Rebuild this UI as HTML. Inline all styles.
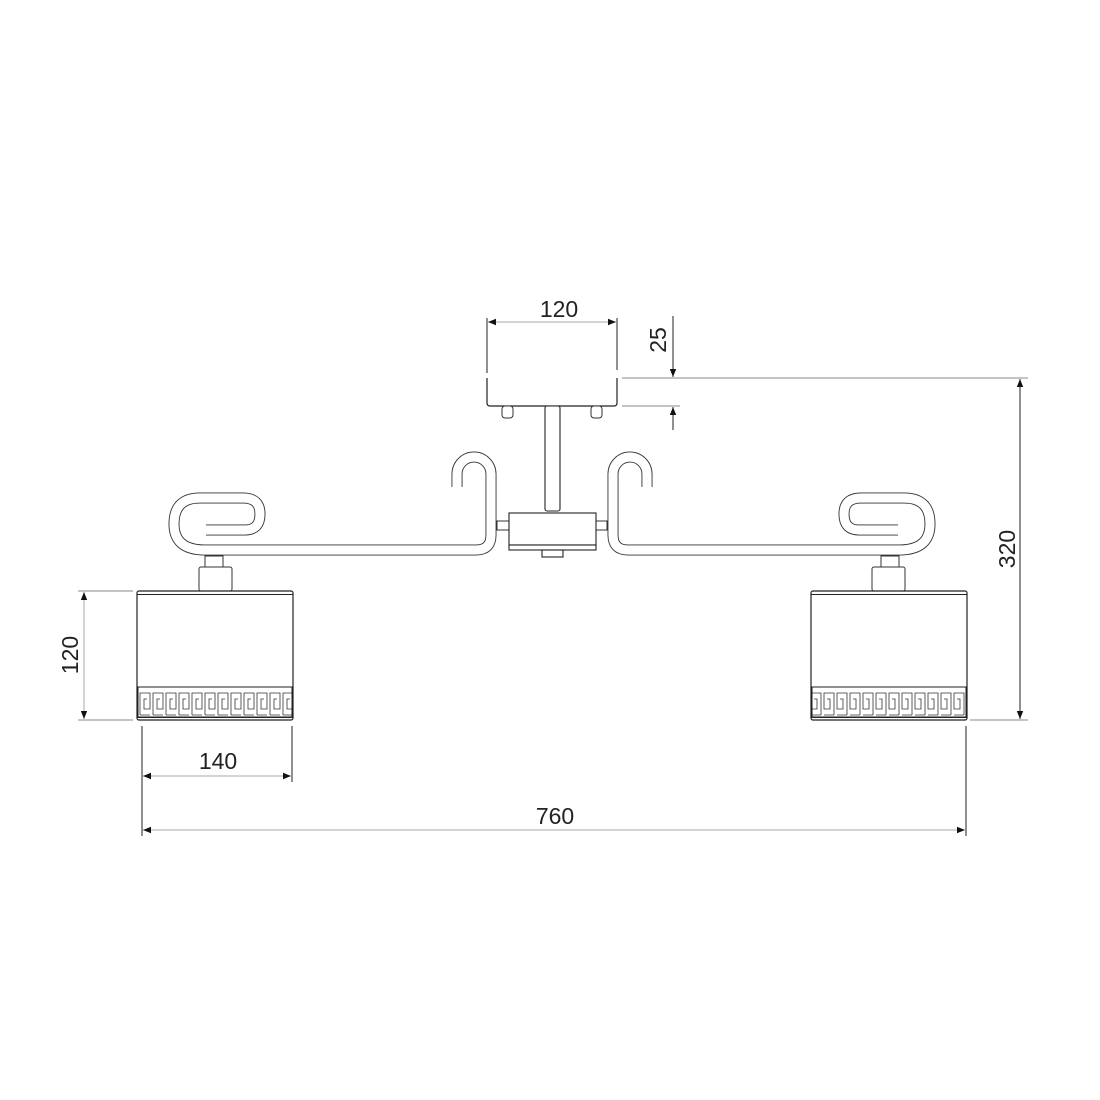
<!DOCTYPE html>
<html><head><meta charset="utf-8"><style>
html,body{margin:0;padding:0;background:#fff}
svg{display:block}
text{font-family:"Liberation Sans Narrow","Liberation Sans",sans-serif;font-size:23px;fill:#222}
</style></head><body>
<svg width="1100" height="1100" viewBox="0 0 1100 1100" xmlns="http://www.w3.org/2000/svg">
<defs>
<pattern id="gk" x="139" y="689" width="13" height="28" patternUnits="userSpaceOnUse">
<path d="M1,26 V4 H11 V20 H5 V10 H8 M11,26 H1" fill="none" stroke="#333" stroke-width="0.8"/>
</pattern>
<marker id="ar" viewBox="0 0 10 10" refX="10" refY="5" markerWidth="14" markerHeight="8" orient="auto-start-reverse" markerUnits="userSpaceOnUse"><path d="M0,1 L10,5 L0,9 Z" fill="#111"/></marker>
<g id="half">
<path d="M206,530 H245 Q260,530 260,514 Q260,498 243,498 H200 Q174,498 174,524 Q174,550 205,550 H476 Q491,550 491,535 V474 A17,17 0 0 0 457,474 V487" fill="none" stroke="#333" stroke-width="11"/>
<path d="M206,530 H245 Q260,530 260,514 Q260,498 243,498 H200 Q174,498 174,524 Q174,550 205,550 H476 Q491,550 491,535 V474 A17,17 0 0 0 457,474 V487" fill="none" stroke="#fff" stroke-width="9.2"/>
<rect x="205" y="556" width="18" height="11" fill="#fff" stroke="#333" stroke-width="1"/>
<rect x="199" y="567" width="33" height="24" rx="2" fill="#fff" stroke="#333" stroke-width="1"/>
<rect x="137" y="591" width="156" height="129" rx="2" fill="#fff" stroke="#222" stroke-width="1.2"/>
<line x1="137" y1="594.5" x2="293" y2="594.5" stroke="#222" stroke-width="1"/>
<rect x="138" y="687" width="154" height="30" fill="url(#gk)" stroke="#222" stroke-width="1"/>
<line x1="137" y1="717.5" x2="293" y2="717.5" stroke="#222" stroke-width="1"/>
<rect x="497" y="521" width="12" height="9" fill="#fff" stroke="#333" stroke-width="1"/>
</g>
</defs>
<use href="#half"/>
<use href="#half" transform="translate(1104,0) scale(-1,1)"/>
<path d="M487,378 V403 Q487,406 490,406 H614 Q617,406 617,403 V378" fill="none" stroke="#222" stroke-width="1.2"/>
<rect x="502" y="406" width="11" height="12" rx="3" fill="#fff" stroke="#333" stroke-width="1"/>
<rect x="591" y="406" width="11" height="12" rx="3" fill="#fff" stroke="#333" stroke-width="1"/>
<rect x="545" y="406" width="15" height="105" rx="2" fill="#fff" stroke="#222" stroke-width="1.1"/>
<rect x="509" y="513" width="87" height="32" fill="#fff" stroke="#222" stroke-width="1.1"/>
<rect x="509" y="545" width="87" height="5" fill="#fff" stroke="#222" stroke-width="1.1"/>
<rect x="542" y="550" width="21" height="7" fill="#fff" stroke="#222" stroke-width="1.1"/>
<g stroke="#222" stroke-width="1" fill="none">
<line x1="487" y1="318" x2="487" y2="373"/><line x1="617" y1="318" x2="617" y2="370"/>
<line x1="488" y1="322" x2="616" y2="322" stroke="#aaa" marker-start="url(#ar)" marker-end="url(#ar)"/>
<line x1="622" y1="378" x2="1028" y2="378" stroke="#888"/>
<line x1="622" y1="406" x2="680" y2="406" stroke="#888"/>
<line x1="673" y1="316" x2="673" y2="377" marker-end="url(#ar)"/>
<line x1="673" y1="430" x2="673" y2="407" marker-end="url(#ar)"/>
<line x1="1020" y1="379" x2="1020" y2="719" marker-start="url(#ar)" marker-end="url(#ar)"/>
<line x1="970" y1="720" x2="1028" y2="720" stroke="#888"/>
<line x1="78" y1="591" x2="133" y2="591" stroke="#888"/><line x1="78" y1="720" x2="133" y2="720" stroke="#888"/>
<line x1="84" y1="592" x2="84" y2="719" stroke="#aaa" marker-start="url(#ar)" marker-end="url(#ar)"/>
<line x1="142" y1="726" x2="142" y2="836"/><line x1="292" y1="726" x2="292" y2="782"/>
<line x1="143" y1="776" x2="291" y2="776" stroke="#aaa" marker-start="url(#ar)" marker-end="url(#ar)"/>
<line x1="966" y1="726" x2="966" y2="836"/>
<line x1="143" y1="830" x2="965" y2="830" stroke="#aaa" marker-start="url(#ar)" marker-end="url(#ar)"/>
</g>
<text x="559" y="317" text-anchor="middle">120</text>
<text x="218" y="769" text-anchor="middle">140</text>
<text x="555" y="824" text-anchor="middle">760</text>
<text transform="translate(666,340) rotate(-90)" text-anchor="middle">25</text>
<text transform="translate(1015,549) rotate(-90)" text-anchor="middle">320</text>
<text transform="translate(78,655) rotate(-90)" text-anchor="middle">120</text>
</svg>
</body></html>
